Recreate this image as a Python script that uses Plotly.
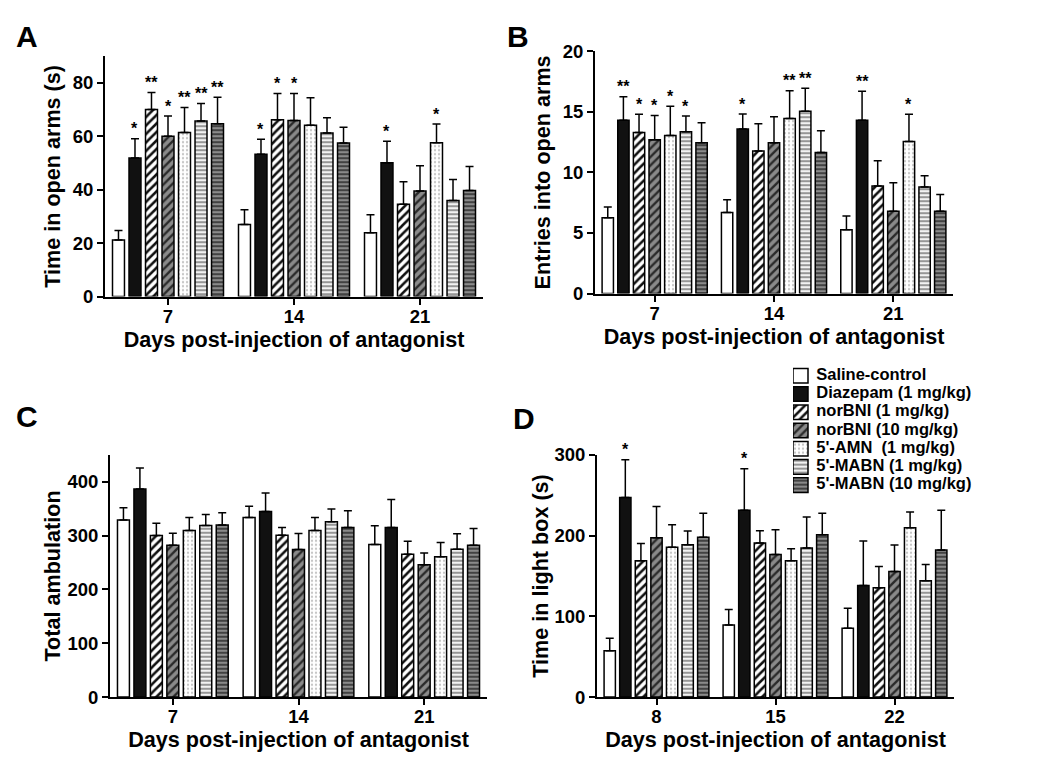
import plotly.graph_objects as go

# ---------------- data ----------------
TREATMENTS = ["Saline-control", "Diazepam (1 mg/kg)", "norBNI (1 mg/kg)",
              "norBNI (10 mg/kg)", "5'-AMN  (1 mg/kg)", "5'-MABN (1 mg/kg)",
              "5'-MABN (10 mg/kg)"]
DAYS_ABC = ["7", "14", "21"]
DAYS_D = ["8", "15", "22"]

# rows = treatments, columns = days
A_MEAN = [[21.2, 27.0, 23.9], [51.9, 53.3, 50.1], [70.0, 66.2, 34.6],
          [60.0, 65.9, 39.5], [61.4, 64.1, 57.6], [65.7, 61.2, 36.0],
          [64.7, 57.5, 39.7]]
A_SEM = [[3.5, 5.5, 6.7], [7.2, 5.6, 8.1], [6.4, 9.8, 8.4], [7.6, 10.1, 9.5],
         [9.4, 10.3, 7.0], [6.6, 5.8, 7.8], [9.9, 5.9, 9.0]]
A_SIG = [["", "", ""], ["*", "*", "*"], ["**", "*", ""], ["*", "*", ""],
         ["**", "", "*"], ["**", "", ""], ["**", "", ""]]

B_MEAN = [[6.26, 6.68, 5.27], [14.3, 13.57, 14.3], [13.3, 11.76, 8.87],
          [12.7, 12.45, 6.8], [13.05, 14.45, 12.55], [13.35, 15.05, 8.8],
          [12.45, 11.65, 6.8]]
B_SEM = [[0.88, 1.07, 1.13], [1.95, 1.24, 2.4], [1.5, 2.25, 2.1],
         [2.0, 2.14, 2.35], [2.4, 2.28, 2.25], [1.3, 1.9, 0.93],
         [1.65, 1.78, 1.37]]
B_SIG = [["", "", ""], ["**", "*", "**"], ["*", "", ""], ["*", "", ""],
         ["*", "**", "*"], ["*", "**", ""], ["", "", ""]]

C_MEAN = [[328.7, 333.6, 283.4], [386.4, 344.8, 315.0], [300.0, 300.8, 265.4],
          [282.0, 274.0, 246.0], [309.5, 309.5, 260.5], [318.8, 325.6, 274.7],
          [319.4, 315.0, 282.0]]
C_SEM = [[23.0, 21.0, 34.7], [39.0, 34.0, 52.0], [23.0, 14.3, 24.2],
         [22.5, 30.0, 21.7], [24.0, 24.0, 26.7], [20.4, 23.6, 28.5],
         [23.0, 31.0, 31.0]]
C_SIG = [["", "", ""]] * 7

D_MEAN = [[57.5, 89.4, 85.2], [247.0, 231.3, 138.2], [168.8, 190.8, 135.3],
          [197.4, 176.7, 155.6], [185.4, 168.8, 209.8], [188.7, 184.6, 144.0],
          [197.8, 201.0, 182.0]]
D_SEM = [[15.3, 19.0, 24.8], [46.8, 51.3, 55.0], [21.5, 15.3, 26.5],
         [38.5, 30.6, 32.7], [28.1, 14.9, 19.4], [17.0, 38.5, 20.3],
         [29.8, 26.5, 49.3]]
D_SIG = [["", "", ""], ["*", "*", ""], ["", "", ""], ["", "", ""],
         ["", "", ""], ["", "", ""], ["", "", ""]]

# ---------------- page geometry (measured) ----------------
LEFT, TOP = 8, 19.4          # where the page puts the plot div
SY = 0.971                   # vertical scale of the captured picture
W, H = 1034, 760
FONT = "Liberation Sans, Arial, sans-serif"
PITCH = 0.131
BAR_W = 0.095


def fx(px):
    return (px - LEFT) / W


def fy(px):
    return 1 - (px / SY - TOP) / H


STYLES = [
    dict(bg="#ffffff", shape="", fg="#000000", size=6, sol=0.3),
    dict(bg="#111111", shape="", fg="#111111", size=6, sol=0.3),
    dict(bg="#ffffff", shape="/", fg="#111111", size=6, sol=0.42),
    dict(bg="#8a8a8a", shape="/", fg="#2a2a2a", size=6, sol=0.4),
    dict(bg="#ffffff", shape=".", fg="#c4c4c4", size=4, sol=0.25),
    dict(bg="#f2f2f2", shape="-", fg="#8c8c8c", size=4, sol=0.45),
    dict(bg="#8a8a8a", shape="-", fg="#3a3a3a", size=4, sol=0.45),
]


def marker_for(s):
    m = dict(color=s["bg"], line=dict(color="black", width=1.5))
    if s["shape"]:
        m["pattern"] = dict(shape=s["shape"], fgcolor=s["fg"], bgcolor=s["bg"],
                            size=s["size"], solidity=s["sol"], fillmode="replace")
    return m


PANELS = [
    dict(letter="A", mean=A_MEAN, sem=A_SEM, sig=A_SIG, days=DAYS_ABC,
         ytitle="Time in open arms (s)", yrange=[0, 90], ytv=[0, 20, 40, 60, 80],
         xpx=(105, 483), ypx=(296, 56), lpos=(14, 36), ystand=6),
    dict(letter="B", mean=B_MEAN, sem=B_SEM, sig=B_SIG, days=DAYS_ABC,
         ytitle="Entries into open arms", yrange=[0, 20], ytv=[0, 5, 10, 15, 20],
         xpx=(595, 953), ypx=(293, 51), lpos=(505, 36), ystand=6),
    dict(letter="C", mean=C_MEAN, sem=C_SEM, sig=C_SIG, days=DAYS_ABC,
         ytitle="Total ambulation", yrange=[0, 450], ytv=[0, 100, 200, 300, 400],
         xpx=(110, 487), ypx=(696, 454), lpos=(14, 416), ystand=1),
    dict(letter="D", mean=D_MEAN, sem=D_SEM, sig=D_SIG, days=DAYS_D,
         ytitle="Time in light box (s)", yrange=[0, 300], ytv=[0, 100, 200, 300],
         xpx=(597, 954), ypx=(696, 454), lpos=(511, 418), ystand=0),
]

fig = go.Figure()
annotations = []
layout_axes = {}

for k, p in enumerate(PANELS, start=1):
    xa = "x" if k == 1 else f"x{k}"
    ya = "y" if k == 1 else f"y{k}"
    for j, name in enumerate(TREATMENTS):
        xs = [d + (j - 3) * PITCH for d in range(len(p["days"]))]
        fig.add_trace(go.Bar(
            x=xs, y=p["mean"][j], width=BAR_W, name=name,
            marker=marker_for(STYLES[j]),
            error_y=dict(type="data", symmetric=False, array=p["sem"][j],
                         arrayminus=[0] * len(xs), color="black",
                         thickness=1.5, width=4),
            xaxis=xa, yaxis=ya, showlegend=False, hoverinfo="skip"))
        for i, s in enumerate(p["sig"][j]):
            if s:
                annotations.append(dict(
                    x=xs[i], y=p["mean"][j][i] + p["sem"][j][i], xref=xa, yref=ya,
                    text=s, showarrow=False, yanchor="middle", yshift=10,
                    font=dict(family=FONT, size=16, color="black", weight="bold")))
    x0, x1 = p["xpx"]
    yb, yt = p["ypx"]
    tick_font = dict(family=FONT, size=18.5, color="black", weight="bold")
    title_font = dict(family=FONT, size=21.6, color="black", weight="bold")
    layout_axes["xaxis" if k == 1 else f"xaxis{k}"] = dict(
        domain=[fx(x0), fx(x1)], anchor=ya, range=[-0.5, 2.5],
        tickvals=list(range(len(p["days"]))), ticktext=p["days"],
        showline=True, linecolor="black", linewidth=2, ticks="outside",
        ticklen=6, tickwidth=2, tickcolor="black", showgrid=False, zeroline=False,
        tickfont=tick_font, ticklabelstandoff=-4,
        title=dict(text="Days post-injection of antagonist", font=title_font, standoff=4))
    layout_axes["yaxis" if k == 1 else f"yaxis{k}"] = dict(
        domain=[fy(yb), fy(yt)], anchor=xa, range=p["yrange"],
        tickvals=p["ytv"], showline=True, linecolor="black", linewidth=2,
        ticks="outside", ticklen=6, tickwidth=2, tickcolor="black",
        showgrid=False, zeroline=False, tickfont=tick_font,
        title=dict(text=p["ytitle"], font=title_font, standoff=p["ystand"]))
    lx, ly = p["lpos"]
    annotations.append(dict(
        x=fx(lx), y=fy(ly), xref="paper", yref="paper", text=p["letter"],
        showarrow=False, xanchor="left", yanchor="middle",
        font=dict(family=FONT, size=30, color="black", weight="bold")))

# ---------------- legend (mini subplot of swatches) ----------------
SW = 15.0
LEG_X0, LEG_X1 = 793, 1040
rows = list(range(len(TREATMENTS)))
for j, name in enumerate(TREATMENTS):
    fig.add_trace(go.Bar(
        x=[1], y=[rows[j]], base=[0], orientation="h", width=0.8,
        marker=marker_for(STYLES[j]), xaxis="x5", yaxis="y5",
        showlegend=False, hoverinfo="skip"))
fig.add_trace(go.Scatter(
    x=[1.55] * len(TREATMENTS), y=rows, mode="text", text=TREATMENTS,
    textposition="middle right", cliponaxis=False,
    textfont=dict(family=FONT, size=16.5, color="black", weight="bold"),
    xaxis="x5", yaxis="y5", showlegend=False, hoverinfo="skip"))
layout_axes["xaxis5"] = dict(domain=[fx(LEG_X0), fx(LEG_X1)],
                             range=[0, (LEG_X1 - LEG_X0) / SW],
                             visible=False, anchor="y5")
layout_axes["yaxis5"] = dict(domain=[fy(493.4), fy(366)],
                             range=[len(TREATMENTS) - 0.5, -0.5],
                             visible=False, anchor="x5")

fig.update_layout(
    width=W, height=H, margin=dict(l=0, r=0, t=0, b=0),
    paper_bgcolor="white", plot_bgcolor="white", barmode="overlay",
    showlegend=False, annotations=annotations,
    font=dict(family=FONT, color="black"), **layout_axes)

fig.write_html("out.html")
